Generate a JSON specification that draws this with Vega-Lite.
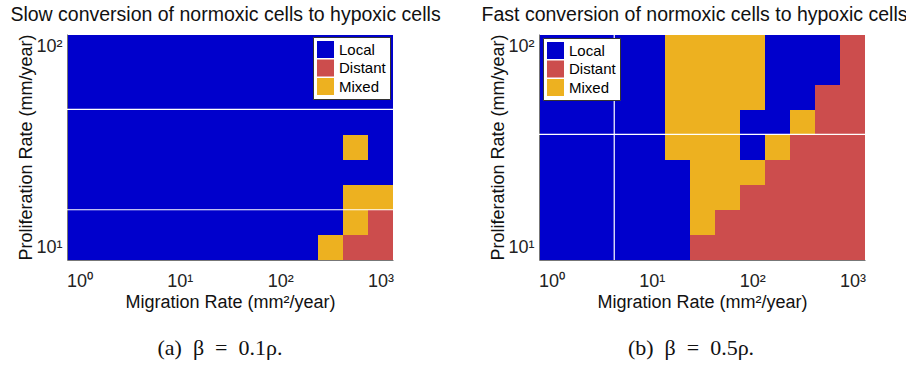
{
  "$schema": "https://vega.github.io/schema/vega-lite/v6.json",
  "autosize": {"type": "none"},
  "padding": {"left": 67, "top": 34, "right": 839, "bottom": 335},
  "background": "white",
  "datasets": {
    "cells": [
      {"panel":"a","mig":1,"prolif":100,"pattern":"Local"},{"panel":"a","mig":1.778,"prolif":100,"pattern":"Local"},{"panel":"a","mig":3.162,"prolif":100,"pattern":"Local"},{"panel":"a","mig":5.623,"prolif":100,"pattern":"Local"},{"panel":"a","mig":10,"prolif":100,"pattern":"Local"},{"panel":"a","mig":17.78,"prolif":100,"pattern":"Local"},{"panel":"a","mig":31.62,"prolif":100,"pattern":"Local"},{"panel":"a","mig":56.23,"prolif":100,"pattern":"Local"},{"panel":"a","mig":100,"prolif":100,"pattern":"Local"},{"panel":"a","mig":177.8,"prolif":100,"pattern":"Local"},{"panel":"a","mig":316.2,"prolif":100,"pattern":"Local"},{"panel":"a","mig":562.3,"prolif":100,"pattern":"Local"},{"panel":"a","mig":1000,"prolif":100,"pattern":"Local"},
      {"panel":"a","mig":1,"prolif":74.99,"pattern":"Local"},{"panel":"a","mig":1.778,"prolif":74.99,"pattern":"Local"},{"panel":"a","mig":3.162,"prolif":74.99,"pattern":"Local"},{"panel":"a","mig":5.623,"prolif":74.99,"pattern":"Local"},{"panel":"a","mig":10,"prolif":74.99,"pattern":"Local"},{"panel":"a","mig":17.78,"prolif":74.99,"pattern":"Local"},{"panel":"a","mig":31.62,"prolif":74.99,"pattern":"Local"},{"panel":"a","mig":56.23,"prolif":74.99,"pattern":"Local"},{"panel":"a","mig":100,"prolif":74.99,"pattern":"Local"},{"panel":"a","mig":177.8,"prolif":74.99,"pattern":"Local"},{"panel":"a","mig":316.2,"prolif":74.99,"pattern":"Local"},{"panel":"a","mig":562.3,"prolif":74.99,"pattern":"Local"},{"panel":"a","mig":1000,"prolif":74.99,"pattern":"Local"},
      {"panel":"a","mig":1,"prolif":56.23,"pattern":"Local"},{"panel":"a","mig":1.778,"prolif":56.23,"pattern":"Local"},{"panel":"a","mig":3.162,"prolif":56.23,"pattern":"Local"},{"panel":"a","mig":5.623,"prolif":56.23,"pattern":"Local"},{"panel":"a","mig":10,"prolif":56.23,"pattern":"Local"},{"panel":"a","mig":17.78,"prolif":56.23,"pattern":"Local"},{"panel":"a","mig":31.62,"prolif":56.23,"pattern":"Local"},{"panel":"a","mig":56.23,"prolif":56.23,"pattern":"Local"},{"panel":"a","mig":100,"prolif":56.23,"pattern":"Local"},{"panel":"a","mig":177.8,"prolif":56.23,"pattern":"Local"},{"panel":"a","mig":316.2,"prolif":56.23,"pattern":"Local"},{"panel":"a","mig":562.3,"prolif":56.23,"pattern":"Local"},{"panel":"a","mig":1000,"prolif":56.23,"pattern":"Local"},
      {"panel":"a","mig":1,"prolif":42.17,"pattern":"Local"},{"panel":"a","mig":1.778,"prolif":42.17,"pattern":"Local"},{"panel":"a","mig":3.162,"prolif":42.17,"pattern":"Local"},{"panel":"a","mig":5.623,"prolif":42.17,"pattern":"Local"},{"panel":"a","mig":10,"prolif":42.17,"pattern":"Local"},{"panel":"a","mig":17.78,"prolif":42.17,"pattern":"Local"},{"panel":"a","mig":31.62,"prolif":42.17,"pattern":"Local"},{"panel":"a","mig":56.23,"prolif":42.17,"pattern":"Local"},{"panel":"a","mig":100,"prolif":42.17,"pattern":"Local"},{"panel":"a","mig":177.8,"prolif":42.17,"pattern":"Local"},{"panel":"a","mig":316.2,"prolif":42.17,"pattern":"Local"},{"panel":"a","mig":562.3,"prolif":42.17,"pattern":"Local"},{"panel":"a","mig":1000,"prolif":42.17,"pattern":"Local"},
      {"panel":"a","mig":1,"prolif":31.62,"pattern":"Local"},{"panel":"a","mig":1.778,"prolif":31.62,"pattern":"Local"},{"panel":"a","mig":3.162,"prolif":31.62,"pattern":"Local"},{"panel":"a","mig":5.623,"prolif":31.62,"pattern":"Local"},{"panel":"a","mig":10,"prolif":31.62,"pattern":"Local"},{"panel":"a","mig":17.78,"prolif":31.62,"pattern":"Local"},{"panel":"a","mig":31.62,"prolif":31.62,"pattern":"Local"},{"panel":"a","mig":56.23,"prolif":31.62,"pattern":"Local"},{"panel":"a","mig":100,"prolif":31.62,"pattern":"Local"},{"panel":"a","mig":177.8,"prolif":31.62,"pattern":"Local"},{"panel":"a","mig":316.2,"prolif":31.62,"pattern":"Local"},{"panel":"a","mig":562.3,"prolif":31.62,"pattern":"Mixed"},{"panel":"a","mig":1000,"prolif":31.62,"pattern":"Local"},
      {"panel":"a","mig":1,"prolif":23.71,"pattern":"Local"},{"panel":"a","mig":1.778,"prolif":23.71,"pattern":"Local"},{"panel":"a","mig":3.162,"prolif":23.71,"pattern":"Local"},{"panel":"a","mig":5.623,"prolif":23.71,"pattern":"Local"},{"panel":"a","mig":10,"prolif":23.71,"pattern":"Local"},{"panel":"a","mig":17.78,"prolif":23.71,"pattern":"Local"},{"panel":"a","mig":31.62,"prolif":23.71,"pattern":"Local"},{"panel":"a","mig":56.23,"prolif":23.71,"pattern":"Local"},{"panel":"a","mig":100,"prolif":23.71,"pattern":"Local"},{"panel":"a","mig":177.8,"prolif":23.71,"pattern":"Local"},{"panel":"a","mig":316.2,"prolif":23.71,"pattern":"Local"},{"panel":"a","mig":562.3,"prolif":23.71,"pattern":"Local"},{"panel":"a","mig":1000,"prolif":23.71,"pattern":"Local"},
      {"panel":"a","mig":1,"prolif":17.78,"pattern":"Local"},{"panel":"a","mig":1.778,"prolif":17.78,"pattern":"Local"},{"panel":"a","mig":3.162,"prolif":17.78,"pattern":"Local"},{"panel":"a","mig":5.623,"prolif":17.78,"pattern":"Local"},{"panel":"a","mig":10,"prolif":17.78,"pattern":"Local"},{"panel":"a","mig":17.78,"prolif":17.78,"pattern":"Local"},{"panel":"a","mig":31.62,"prolif":17.78,"pattern":"Local"},{"panel":"a","mig":56.23,"prolif":17.78,"pattern":"Local"},{"panel":"a","mig":100,"prolif":17.78,"pattern":"Local"},{"panel":"a","mig":177.8,"prolif":17.78,"pattern":"Local"},{"panel":"a","mig":316.2,"prolif":17.78,"pattern":"Local"},{"panel":"a","mig":562.3,"prolif":17.78,"pattern":"Mixed"},{"panel":"a","mig":1000,"prolif":17.78,"pattern":"Mixed"},
      {"panel":"a","mig":1,"prolif":13.34,"pattern":"Local"},{"panel":"a","mig":1.778,"prolif":13.34,"pattern":"Local"},{"panel":"a","mig":3.162,"prolif":13.34,"pattern":"Local"},{"panel":"a","mig":5.623,"prolif":13.34,"pattern":"Local"},{"panel":"a","mig":10,"prolif":13.34,"pattern":"Local"},{"panel":"a","mig":17.78,"prolif":13.34,"pattern":"Local"},{"panel":"a","mig":31.62,"prolif":13.34,"pattern":"Local"},{"panel":"a","mig":56.23,"prolif":13.34,"pattern":"Local"},{"panel":"a","mig":100,"prolif":13.34,"pattern":"Local"},{"panel":"a","mig":177.8,"prolif":13.34,"pattern":"Local"},{"panel":"a","mig":316.2,"prolif":13.34,"pattern":"Local"},{"panel":"a","mig":562.3,"prolif":13.34,"pattern":"Mixed"},{"panel":"a","mig":1000,"prolif":13.34,"pattern":"Distant"},
      {"panel":"a","mig":1,"prolif":10,"pattern":"Local"},{"panel":"a","mig":1.778,"prolif":10,"pattern":"Local"},{"panel":"a","mig":3.162,"prolif":10,"pattern":"Local"},{"panel":"a","mig":5.623,"prolif":10,"pattern":"Local"},{"panel":"a","mig":10,"prolif":10,"pattern":"Local"},{"panel":"a","mig":17.78,"prolif":10,"pattern":"Local"},{"panel":"a","mig":31.62,"prolif":10,"pattern":"Local"},{"panel":"a","mig":56.23,"prolif":10,"pattern":"Local"},{"panel":"a","mig":100,"prolif":10,"pattern":"Local"},{"panel":"a","mig":177.8,"prolif":10,"pattern":"Local"},{"panel":"a","mig":316.2,"prolif":10,"pattern":"Mixed"},{"panel":"a","mig":562.3,"prolif":10,"pattern":"Distant"},{"panel":"a","mig":1000,"prolif":10,"pattern":"Distant"},

      {"panel":"b","mig":1,"prolif":100,"pattern":"Local"},{"panel":"b","mig":1.778,"prolif":100,"pattern":"Local"},{"panel":"b","mig":3.162,"prolif":100,"pattern":"Local"},{"panel":"b","mig":5.623,"prolif":100,"pattern":"Local"},{"panel":"b","mig":10,"prolif":100,"pattern":"Local"},{"panel":"b","mig":17.78,"prolif":100,"pattern":"Mixed"},{"panel":"b","mig":31.62,"prolif":100,"pattern":"Mixed"},{"panel":"b","mig":56.23,"prolif":100,"pattern":"Mixed"},{"panel":"b","mig":100,"prolif":100,"pattern":"Mixed"},{"panel":"b","mig":177.8,"prolif":100,"pattern":"Local"},{"panel":"b","mig":316.2,"prolif":100,"pattern":"Local"},{"panel":"b","mig":562.3,"prolif":100,"pattern":"Local"},{"panel":"b","mig":1000,"prolif":100,"pattern":"Distant"},
      {"panel":"b","mig":1,"prolif":74.99,"pattern":"Local"},{"panel":"b","mig":1.778,"prolif":74.99,"pattern":"Local"},{"panel":"b","mig":3.162,"prolif":74.99,"pattern":"Local"},{"panel":"b","mig":5.623,"prolif":74.99,"pattern":"Local"},{"panel":"b","mig":10,"prolif":74.99,"pattern":"Local"},{"panel":"b","mig":17.78,"prolif":74.99,"pattern":"Mixed"},{"panel":"b","mig":31.62,"prolif":74.99,"pattern":"Mixed"},{"panel":"b","mig":56.23,"prolif":74.99,"pattern":"Mixed"},{"panel":"b","mig":100,"prolif":74.99,"pattern":"Mixed"},{"panel":"b","mig":177.8,"prolif":74.99,"pattern":"Local"},{"panel":"b","mig":316.2,"prolif":74.99,"pattern":"Local"},{"panel":"b","mig":562.3,"prolif":74.99,"pattern":"Local"},{"panel":"b","mig":1000,"prolif":74.99,"pattern":"Distant"},
      {"panel":"b","mig":1,"prolif":56.23,"pattern":"Local"},{"panel":"b","mig":1.778,"prolif":56.23,"pattern":"Local"},{"panel":"b","mig":3.162,"prolif":56.23,"pattern":"Local"},{"panel":"b","mig":5.623,"prolif":56.23,"pattern":"Local"},{"panel":"b","mig":10,"prolif":56.23,"pattern":"Local"},{"panel":"b","mig":17.78,"prolif":56.23,"pattern":"Mixed"},{"panel":"b","mig":31.62,"prolif":56.23,"pattern":"Mixed"},{"panel":"b","mig":56.23,"prolif":56.23,"pattern":"Mixed"},{"panel":"b","mig":100,"prolif":56.23,"pattern":"Mixed"},{"panel":"b","mig":177.8,"prolif":56.23,"pattern":"Local"},{"panel":"b","mig":316.2,"prolif":56.23,"pattern":"Local"},{"panel":"b","mig":562.3,"prolif":56.23,"pattern":"Distant"},{"panel":"b","mig":1000,"prolif":56.23,"pattern":"Distant"},
      {"panel":"b","mig":1,"prolif":42.17,"pattern":"Local"},{"panel":"b","mig":1.778,"prolif":42.17,"pattern":"Local"},{"panel":"b","mig":3.162,"prolif":42.17,"pattern":"Local"},{"panel":"b","mig":5.623,"prolif":42.17,"pattern":"Local"},{"panel":"b","mig":10,"prolif":42.17,"pattern":"Local"},{"panel":"b","mig":17.78,"prolif":42.17,"pattern":"Mixed"},{"panel":"b","mig":31.62,"prolif":42.17,"pattern":"Mixed"},{"panel":"b","mig":56.23,"prolif":42.17,"pattern":"Mixed"},{"panel":"b","mig":100,"prolif":42.17,"pattern":"Local"},{"panel":"b","mig":177.8,"prolif":42.17,"pattern":"Local"},{"panel":"b","mig":316.2,"prolif":42.17,"pattern":"Mixed"},{"panel":"b","mig":562.3,"prolif":42.17,"pattern":"Distant"},{"panel":"b","mig":1000,"prolif":42.17,"pattern":"Distant"},
      {"panel":"b","mig":1,"prolif":31.62,"pattern":"Local"},{"panel":"b","mig":1.778,"prolif":31.62,"pattern":"Local"},{"panel":"b","mig":3.162,"prolif":31.62,"pattern":"Local"},{"panel":"b","mig":5.623,"prolif":31.62,"pattern":"Local"},{"panel":"b","mig":10,"prolif":31.62,"pattern":"Local"},{"panel":"b","mig":17.78,"prolif":31.62,"pattern":"Mixed"},{"panel":"b","mig":31.62,"prolif":31.62,"pattern":"Mixed"},{"panel":"b","mig":56.23,"prolif":31.62,"pattern":"Mixed"},{"panel":"b","mig":100,"prolif":31.62,"pattern":"Local"},{"panel":"b","mig":177.8,"prolif":31.62,"pattern":"Mixed"},{"panel":"b","mig":316.2,"prolif":31.62,"pattern":"Distant"},{"panel":"b","mig":562.3,"prolif":31.62,"pattern":"Distant"},{"panel":"b","mig":1000,"prolif":31.62,"pattern":"Distant"},
      {"panel":"b","mig":1,"prolif":23.71,"pattern":"Local"},{"panel":"b","mig":1.778,"prolif":23.71,"pattern":"Local"},{"panel":"b","mig":3.162,"prolif":23.71,"pattern":"Local"},{"panel":"b","mig":5.623,"prolif":23.71,"pattern":"Local"},{"panel":"b","mig":10,"prolif":23.71,"pattern":"Local"},{"panel":"b","mig":17.78,"prolif":23.71,"pattern":"Local"},{"panel":"b","mig":31.62,"prolif":23.71,"pattern":"Mixed"},{"panel":"b","mig":56.23,"prolif":23.71,"pattern":"Mixed"},{"panel":"b","mig":100,"prolif":23.71,"pattern":"Mixed"},{"panel":"b","mig":177.8,"prolif":23.71,"pattern":"Distant"},{"panel":"b","mig":316.2,"prolif":23.71,"pattern":"Distant"},{"panel":"b","mig":562.3,"prolif":23.71,"pattern":"Distant"},{"panel":"b","mig":1000,"prolif":23.71,"pattern":"Distant"},
      {"panel":"b","mig":1,"prolif":17.78,"pattern":"Local"},{"panel":"b","mig":1.778,"prolif":17.78,"pattern":"Local"},{"panel":"b","mig":3.162,"prolif":17.78,"pattern":"Local"},{"panel":"b","mig":5.623,"prolif":17.78,"pattern":"Local"},{"panel":"b","mig":10,"prolif":17.78,"pattern":"Local"},{"panel":"b","mig":17.78,"prolif":17.78,"pattern":"Local"},{"panel":"b","mig":31.62,"prolif":17.78,"pattern":"Mixed"},{"panel":"b","mig":56.23,"prolif":17.78,"pattern":"Mixed"},{"panel":"b","mig":100,"prolif":17.78,"pattern":"Distant"},{"panel":"b","mig":177.8,"prolif":17.78,"pattern":"Distant"},{"panel":"b","mig":316.2,"prolif":17.78,"pattern":"Distant"},{"panel":"b","mig":562.3,"prolif":17.78,"pattern":"Distant"},{"panel":"b","mig":1000,"prolif":17.78,"pattern":"Distant"},
      {"panel":"b","mig":1,"prolif":13.34,"pattern":"Local"},{"panel":"b","mig":1.778,"prolif":13.34,"pattern":"Local"},{"panel":"b","mig":3.162,"prolif":13.34,"pattern":"Local"},{"panel":"b","mig":5.623,"prolif":13.34,"pattern":"Local"},{"panel":"b","mig":10,"prolif":13.34,"pattern":"Local"},{"panel":"b","mig":17.78,"prolif":13.34,"pattern":"Local"},{"panel":"b","mig":31.62,"prolif":13.34,"pattern":"Mixed"},{"panel":"b","mig":56.23,"prolif":13.34,"pattern":"Distant"},{"panel":"b","mig":100,"prolif":13.34,"pattern":"Distant"},{"panel":"b","mig":177.8,"prolif":13.34,"pattern":"Distant"},{"panel":"b","mig":316.2,"prolif":13.34,"pattern":"Distant"},{"panel":"b","mig":562.3,"prolif":13.34,"pattern":"Distant"},{"panel":"b","mig":1000,"prolif":13.34,"pattern":"Distant"},
      {"panel":"b","mig":1,"prolif":10,"pattern":"Local"},{"panel":"b","mig":1.778,"prolif":10,"pattern":"Local"},{"panel":"b","mig":3.162,"prolif":10,"pattern":"Local"},{"panel":"b","mig":5.623,"prolif":10,"pattern":"Local"},{"panel":"b","mig":10,"prolif":10,"pattern":"Local"},{"panel":"b","mig":17.78,"prolif":10,"pattern":"Local"},{"panel":"b","mig":31.62,"prolif":10,"pattern":"Distant"},{"panel":"b","mig":56.23,"prolif":10,"pattern":"Distant"},{"panel":"b","mig":100,"prolif":10,"pattern":"Distant"},{"panel":"b","mig":177.8,"prolif":10,"pattern":"Distant"},{"panel":"b","mig":316.2,"prolif":10,"pattern":"Distant"},{"panel":"b","mig":562.3,"prolif":10,"pattern":"Distant"},{"panel":"b","mig":1000,"prolif":10,"pattern":"Distant"}
    ],
    "seams": [
      {"panel":"a","dir":"h","value":48.70},
      {"panel":"a","dir":"h","value":15.40},
      {"panel":"b","dir":"h","value":36.52},
      {"panel":"b","dir":"v","value":4.217}
    ]
  },
  "hconcat": [
    {
      "width": 326,
      "height": 226,
      "title": {"text": "(a)\u2002β\u2002=\u20020.1ρ.", "orient": "bottom", "anchor": "middle", "font": "Liberation Serif", "fontSize": 22, "fontWeight": "normal", "color": "#111111", "offset": 27, "dx": -10},
      "resolve": {"scale": {"x": "independent", "y": "independent"}},
      "layer": [
        {
          "data": {"name": "cells"},
          "transform": [{"filter": "datum.panel === 'a'"}],
          "mark": {"type": "rect"},
          "encoding": {
            "x": {"field": "mig", "type": "ordinal", "scale": {"paddingInner": 0, "paddingOuter": 0, "round": true},
                  "axis": {"orient": "top", "labels": false, "ticks": false, "domain": false, "title": "Slow conversion of normoxic cells to hypoxic cells", "titleFontSize": 19.5, "titleFontWeight": "normal", "titleColor": "#111111", "titlePadding": 10, "titleX": 158}},
            "y": {"field": "prolif", "type": "ordinal", "sort": "descending", "scale": {"paddingInner": 0, "paddingOuter": 0, "round": true}, "axis": null},
            "color": {"field": "pattern", "type": "nominal",
                      "scale": {"domain": ["Local", "Distant", "Mixed"], "range": ["#0000cc", "#cc4d4d", "#edb120"]},
                      "legend": {"title": null, "orient": "top-right", "offset": 3, "symbolType": "square", "symbolSize": 289, "symbolStrokeWidth": 0, "labelFontSize": 15, "labelColor": "#000000", "labelOffset": 5, "rowPadding": 1.5, "padding": 4, "fillColor": "white", "strokeColor": "#333333"}}
          }
        },
        {
          "data": {"name": "seams"},
          "transform": [{"filter": "datum.panel === 'a' && datum.dir === 'h'"}],
          "mark": {"type": "rule", "color": "white", "strokeWidth": 1.2},
          "encoding": {
            "y": {"field": "value", "type": "quantitative", "scale": {"type": "log", "domain": [8.6596, 115.478], "nice": false},
                  "axis": {"values": [9, 10, 20, 30, 40, 50, 60, 70, 80, 90, 100], "labelExpr": "datum.value == 10 ? '10¹' : datum.value == 100 ? '10²' : ''", "title": "Proliferation Rate (mm/year)"}}
          }
        },
        {
          "data": {"name": "seams"},
          "transform": [{"filter": "datum.panel === 'a' && datum.dir === 'v'"}],
          "mark": {"type": "rule", "color": "white", "strokeWidth": 1.2},
          "encoding": {
            "x": {"field": "value", "type": "quantitative", "scale": {"type": "log", "domain": [0.74989, 1333.52], "nice": false},
                  "axis": {"values": [0.8, 0.9, 1, 2, 3, 4, 5, 6, 7, 8, 9, 10, 20, 30, 40, 50, 60, 70, 80, 90, 100, 200, 300, 400, 500, 600, 700, 800, 900, 1000], "labelExpr": "datum.value == 1 ? '10⁰' : datum.value == 10 ? '10¹' : datum.value == 100 ? '10²' : datum.value == 1000 ? '10³' : ''", "title": "Migration Rate (mm²/year)"}}
          }
        }
      ]
    },
    {
      "width": 326,
      "height": 226,
      "title": {"text": "(b)\u2002β\u2002=\u20020.5ρ.", "orient": "bottom", "anchor": "middle", "font": "Liberation Serif", "fontSize": 22, "fontWeight": "normal", "color": "#111111", "offset": 27, "dx": -11},
      "resolve": {"scale": {"x": "independent", "y": "independent"}},
      "layer": [
        {
          "data": {"name": "cells"},
          "transform": [{"filter": "datum.panel === 'b'"}],
          "mark": {"type": "rect"},
          "encoding": {
            "x": {"field": "mig", "type": "ordinal", "scale": {"paddingInner": 0, "paddingOuter": 0, "round": true},
                  "axis": {"orient": "top", "labels": false, "ticks": false, "domain": false, "title": "Fast conversion of normoxic cells to hypoxic cells", "titleFontSize": 19.5, "titleFontWeight": "normal", "titleColor": "#111111", "titlePadding": 10, "titleX": 155}},
            "y": {"field": "prolif", "type": "ordinal", "sort": "descending", "scale": {"paddingInner": 0, "paddingOuter": 0, "round": true}, "axis": null},
            "color": {"field": "pattern", "type": "nominal",
                      "scale": {"domain": ["Local", "Distant", "Mixed"], "range": ["#0000cc", "#cc4d4d", "#edb120"]},
                      "legend": {"title": null, "orient": "top-left", "offset": 4, "symbolType": "square", "symbolSize": 289, "symbolStrokeWidth": 0, "labelFontSize": 15, "labelColor": "#000000", "labelOffset": 5, "rowPadding": 1.5, "padding": 4, "fillColor": "white", "strokeColor": "#333333"}}
          }
        },
        {
          "data": {"name": "seams"},
          "transform": [{"filter": "datum.panel === 'b' && datum.dir === 'h'"}],
          "mark": {"type": "rule", "color": "white", "strokeWidth": 1.2},
          "encoding": {
            "y": {"field": "value", "type": "quantitative", "scale": {"type": "log", "domain": [8.6596, 115.478], "nice": false},
                  "axis": {"values": [9, 10, 20, 30, 40, 50, 60, 70, 80, 90, 100], "labelExpr": "datum.value == 10 ? '10¹' : datum.value == 100 ? '10²' : ''", "title": "Proliferation Rate (mm/year)"}}
          }
        },
        {
          "data": {"name": "seams"},
          "transform": [{"filter": "datum.panel === 'b' && datum.dir === 'v'"}],
          "mark": {"type": "rule", "color": "white", "strokeWidth": 1.2},
          "encoding": {
            "x": {"field": "value", "type": "quantitative", "scale": {"type": "log", "domain": [0.74989, 1333.52], "nice": false},
                  "axis": {"values": [0.8, 0.9, 1, 2, 3, 4, 5, 6, 7, 8, 9, 10, 20, 30, 40, 50, 60, 70, 80, 90, 100, 200, 300, 400, 500, 600, 700, 800, 900, 1000], "labelExpr": "datum.value == 1 ? '10⁰' : datum.value == 10 ? '10¹' : datum.value == 100 ? '10²' : datum.value == 1000 ? '10³' : ''", "title": "Migration Rate (mm²/year)"}}
          }
        }
      ]
    }
  ],
  "spacing": 146,
  "bounds": "flush",
  "resolve": {"legend": {"color": "independent"}},
  "config": {
    "font": "Liberation Sans",
    "view": {"stroke": null},
    "axis": {
      "grid": false,
      "domainColor": "#777777",
      "domainWidth": 1,
      "tickColor": "#333333",
      "tickSize": -3,
      "tickWidth": 1,
      "labelFont": "Liberation Sans",
      "labelFontSize": 18,
      "labelColor": "#222222",
      "labelOverlap": false,
      "labelFlush": false,
      "labelBound": false,
      "titleFont": "Liberation Sans",
      "titleFontSize": 18,
      "titleFontWeight": "normal",
      "titleColor": "#111111"
    },
    "axisBottom": {"labelPadding": 15, "titlePadding": 3},
    "axisLeft": {"labelPadding": 8, "titlePadding": 0},
    "legend": {"labelFont": "Liberation Sans"}
  }
}
